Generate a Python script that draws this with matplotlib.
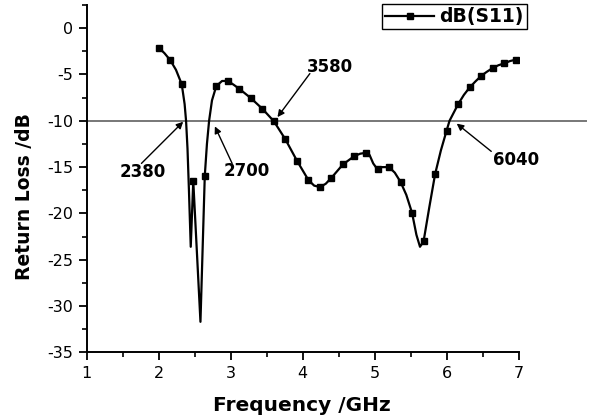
import matplotlib
matplotlib.use("Agg")
import matplotlib.pyplot as plt
from matplotlib.lines import Line2D
from matplotlib.ticker import MultipleLocator

plt.rcParams['axes.unicode_minus'] = False
plt.rcParams['font.family'] = 'DejaVu Sans'

# marker positions (GHz, dB)
marker_freq = [2.00, 2.16, 2.32, 2.48, 2.64, 2.80, 2.96, 3.12, 3.28, 3.44, 3.60,
               3.76, 3.92, 4.08, 4.24, 4.40, 4.56, 4.72, 4.88, 5.04, 5.20, 5.36,
               5.52, 5.68, 5.84, 6.00, 6.16, 6.32, 6.48, 6.64, 6.80, 6.96]
marker_s11 = [-2.1, -3.45, -6.05, -16.5, -15.95, -6.25, -5.7, -6.55, -7.55, -8.7, -10.05,
              -12.0, -14.3, -16.4, -17.15, -16.15, -14.7, -13.8, -13.45, -15.25, -15.0, -16.6,
              -19.95, -23.0, -15.75, -11.05, -8.2, -6.4, -5.15, -4.3, -3.8, -3.4]

# traced curve
curve_freq = [2.00, 2.08, 2.16, 2.24, 2.32, 2.36, 2.38, 2.40, 2.42, 2.445, 2.48,
              2.58, 2.64, 2.67, 2.70, 2.74, 2.80, 2.88, 2.96, 3.04, 3.12, 3.28,
              3.44, 3.60, 3.76, 3.92, 4.08, 4.16, 4.24, 4.32, 4.40, 4.56, 4.72,
              4.80, 4.88, 4.93, 4.98, 5.04, 5.10, 5.20, 5.28, 5.36, 5.44, 5.52,
              5.58, 5.63, 5.68, 5.76, 5.84, 5.92, 6.00, 6.04, 6.08, 6.16, 6.24,
              6.32, 6.40, 6.48, 6.56, 6.64, 6.72, 6.80, 6.88, 6.96]
curve_s11 = [-2.1, -2.7, -3.45, -4.5, -6.05, -8.2, -10.0, -13.0, -17.5, -23.6, -16.5,
             -31.7, -15.95, -12.5, -10.0, -7.8, -6.25, -5.7, -5.7, -6.1, -6.55, -7.55,
             -8.7, -10.05, -12.0, -14.3, -16.4, -17.0, -17.15, -16.8, -16.15, -14.7, -13.8,
             -13.55, -13.45, -13.7, -14.6, -15.25, -15.0, -15.0, -15.6, -16.6, -18.0, -19.95,
             -22.3, -23.6, -23.0, -19.3, -15.75, -13.2, -11.05, -10.0, -9.4, -8.2, -7.2,
             -6.4, -5.75, -5.15, -4.7, -4.3, -4.0, -3.8, -3.55, -3.4]

ref_level = -10
ref_line_end = 7.93

# annotations: label, text pos, arrow tail, arrow head
notes = [
    ("2380", (1.78, -15.5), (1.76, -14.6), (2.34, -10.1)),
    ("2700", (3.22, -15.4), (3.02, -14.6), (2.78, -10.6)),
    ("3580", (4.38, -4.2), (4.10, -4.9), (3.65, -9.6)),
    ("6040", (6.97, -14.2), (6.62, -13.3), (6.14, -10.3)),
]

fig = plt.figure(figsize=(5.9, 4.19), dpi=100)
ax = fig.add_axes([0.147, 0.159, 0.732, 0.829])

ax.plot([1, ref_line_end], [ref_level, ref_level], color='#777777', lw=1.4,
        clip_on=False, zorder=1)
ax.plot(curve_freq, curve_s11, color='black', lw=1.6, zorder=2)
ax.plot(marker_freq, marker_s11, ls='none', marker='s', ms=5, color='black', zorder=3)

for label, txt, tail, head in notes:
    ax.annotate('', xy=head, xytext=tail,
                arrowprops=dict(arrowstyle='-|>', color='black', lw=1.0,
                                mutation_scale=10, shrinkA=0, shrinkB=0))
    ax.text(txt[0], txt[1], label, ha='center', va='center',
            fontsize=12, fontweight='bold')

ax.set_xlim(1, 7)
ax.set_ylim(-35, 2.5)
ax.xaxis.set_major_locator(MultipleLocator(1))
ax.xaxis.set_minor_locator(MultipleLocator(0.5))
ax.yaxis.set_major_locator(MultipleLocator(5))
ax.yaxis.set_minor_locator(MultipleLocator(2.5))
ax.tick_params(which='major', length=6, width=1.3, labelsize=11.5, direction='out')
ax.tick_params(which='minor', length=3.5, width=1.2, direction='out')
ax.spines['top'].set_visible(False)
ax.spines['right'].set_visible(False)
ax.spines['left'].set_linewidth(1.4)
ax.spines['bottom'].set_linewidth(1.4)

fig.text(0.511, 0.033, "Frequency /GHz", ha='center', va='center',
         fontsize=14.5, fontweight='bold')
fig.text(0.042, 0.532, "Return Loss /dB", ha='center', va='center',
         rotation=90, fontsize=13.5, fontweight='bold')

handle = Line2D([], [], color='black', lw=1.6, marker='s', ms=5)
leg = ax.legend([handle], ['dB(S11)'], loc='upper right',
                bbox_to_anchor=(526.7 / 590, 1 - 4.3 / 419),
                bbox_transform=fig.transFigure, borderaxespad=0,
                fancybox=False, edgecolor='black', framealpha=1,
                handlelength=2.6, handletextpad=0.3, borderpad=0.15,
                prop=dict(size=13.5, weight='bold'))
leg.get_frame().set_linewidth(1.0)

fig.savefig("out.png", dpi=100)
